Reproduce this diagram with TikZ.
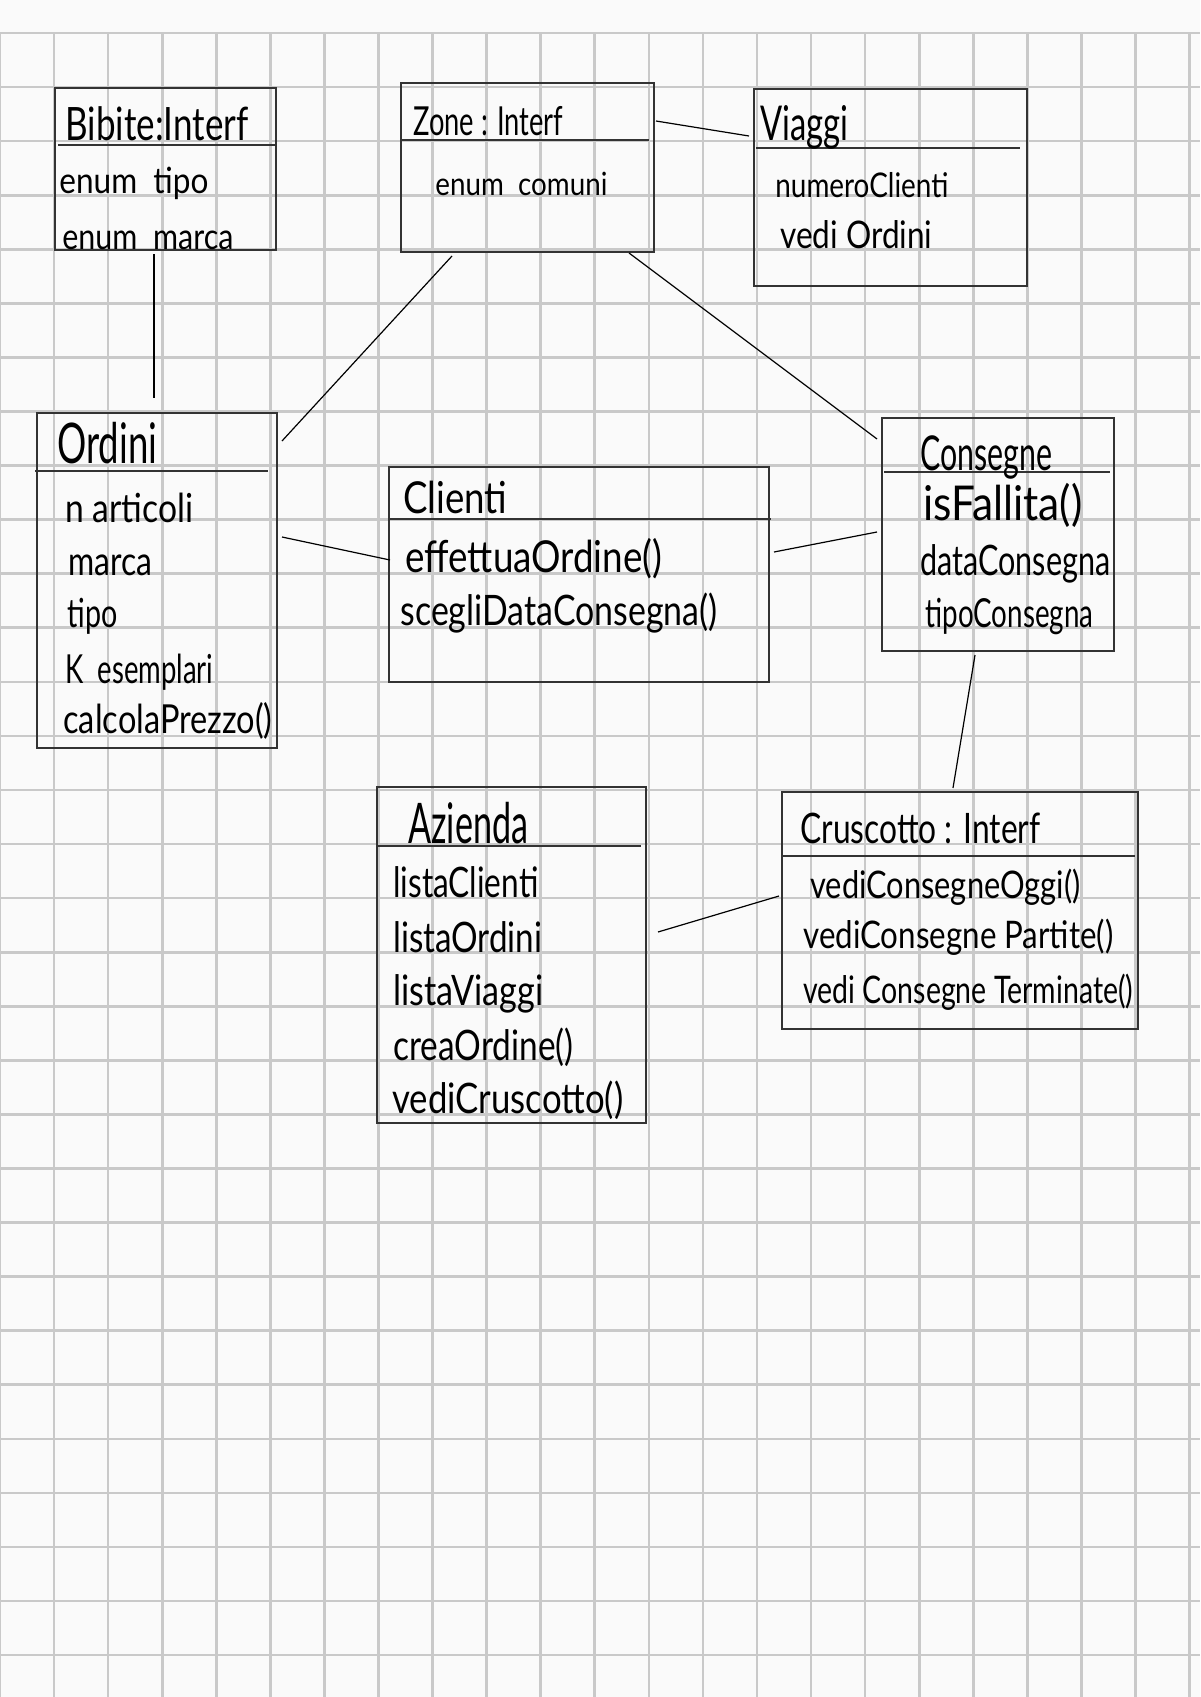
\documentclass[tikz,border=0pt]{standalone}
\usepackage{fontspec}
\setmainfont{Lato}
\usepackage{graphicx}
\newcommand\hw[3]{\resizebox{#1pt}{\height}{\fontsize{#2}{#2}\selectfont #3}}
\begin{document}
\begin{tikzpicture}[x=0.5pt,y=-0.5pt,
  gridline/.style={line width=1.3pt,draw=black!21},
  umlbox/.style={draw=black!80,line width=0.9pt},
  divider/.style={draw=black!80,line width=0.7pt},
  link/.style={draw=black,line width=0.6pt},
  txt/.style={anchor=base west,inner sep=0pt,text=black}]
\useasboundingbox (0,0) rectangle (1200,1697);
\fill[white!98!black] (0,0) rectangle (1200,1697);
% grid
\foreach \k in {0,...,22} \draw[gridline] ({54.07*\k},33) -- ({54.07*\k},1697);
\foreach \k in {0,...,30} \draw[gridline] (0,{33+54.07*\k}) -- (1200,{33+54.07*\k});
% boxes
\draw[umlbox] (55,88) rectangle (276,250);
\draw[divider] (58,145) -- (275,145);
\draw[umlbox] (401,83) rectangle (654,252);
\draw[divider] (401,140) -- (649,140);
\draw[umlbox] (754,89) rectangle (1027,286);
\draw[divider] (756,148) -- (1020,148);
\draw[umlbox] (37,413) rectangle (277,748);
\draw[divider] (35,471) -- (268,471);
\draw[umlbox] (389,467) rectangle (769,682);
\draw[divider] (389,519) -- (771,519);
\draw[umlbox] (882,418) rectangle (1114,651);
\draw[divider] (884,472) -- (1110,472);
\draw[umlbox] (377,787) rectangle (646,1123);
\draw[divider] (377,846) -- (641,846);
\draw[umlbox] (782,792) rectangle (1138,1029);
\draw[divider] (782,856) -- (1135,856);
% texts
\node[txt] (bib-h) at (65,140) {\hw{91.5}{23}{Bibite:Interf}};
\node[txt] (bib-1) at (59,193) {\hw{74.5}{18}{enum\ \ tipo}};
\node[txt] (bib-2) at (62,249) {\hw{85.5}{18}{enum\ \ marca}};
\node[txt] (zon-h) at (413,135) {\hw{75}{20}{Zone : Interf}};
\node[txt] (zon-1) at (435,195) {\hw{86}{16}{enum\ \ comuni}};
\node[txt] (via-h) at (760,140) {\hw{44}{24}{Viaggi}};
\node[txt] (via-1) at (775,197) {\hw{86.5}{17}{numeroClienti}};
\node[txt] (via-2) at (780,248) {\hw{76}{19}{vedi Ordini}};
\node[txt] (ord-h) at (57,463) {\hw{50}{28}{Ordini}};
\node[txt] (ord-1) at (65,522) {\hw{64}{20}{n articoli}};
\node[txt] (ord-2) at (68,575) {\hw{42}{20}{marca}};
\node[txt] (ord-3) at (67,627) {\hw{25}{20}{tipo}};
\node[txt] (ord-4) at (65,683) {\hw{74}{20}{K\ \ esemplari}};
\node[txt] (ord-5) at (63,733) {\hw{104.5}{20}{calcolaPrezzo()}};
\node[txt] (cli-h) at (403,513) {\hw{52}{22}{Clienti}};
\node[txt] (cli-1) at (405,572) {\hw{128.5}{22}{effettuaOrdine()}};
\node[txt] (cli-2) at (400,625) {\hw{158.5}{21}{scegliDataConsegna()}};
\node[txt] (con-h) at (920,470) {\hw{66}{24}{Consegne}};
\node[txt] (con-1) at (923,520) {\hw{79.5}{24}{isFallita()}};
\node[txt] (con-2) at (920,575) {\hw{95}{21}{dataConsegna}};
\node[txt] (con-3) at (925,627) {\hw{84}{20}{tipoConsegna}};
\node[txt] (azi-h) at (408,843) {\hw{60}{28}{Azienda}};
\node[txt] (azi-1) at (393,897) {\hw{72.5}{21}{listaClienti}};
\node[txt] (azi-2) at (393,952) {\hw{74.5}{21}{listaOrdini}};
\node[txt] (azi-3) at (393,1005) {\hw{75}{21}{listaViaggi}};
\node[txt] (azi-4) at (393,1060) {\hw{90}{21}{creaOrdine()}};
\node[txt] (azi-5) at (392,1113) {\hw{115.5}{21}{vediCruscotto()}};
\node[txt] (cru-h) at (800,843) {\hw{120}{21}{Cruscotto : Interf}};
\node[txt] (cru-1) at (810,898) {\hw{135}{19}{vediConsegneOggi()}};
\node[txt] (cru-2) at (803,948) {\hw{155}{19}{vediConsegne Partite()}};
\node[txt] (cru-3) at (803,1003) {\hw{165}{19}{vedi Consegne Terminate()}};
% connector end points
\coordinate (bibS) at (154,254);  \coordinate (ordN) at (154,398);
\coordinate (zonE) at (656,121);  \coordinate (viaW) at (749,136);
\coordinate (zonSW) at (452,256); \coordinate (ordNE) at (282,441);
\coordinate (zonSE) at (629,253); \coordinate (conNW) at (877,439);
\coordinate (ordE) at (282,537);  \coordinate (cliW) at (390,560);
\coordinate (cliE) at (774,552);  \coordinate (conW) at (877,532);
\coordinate (conS) at (975,655);  \coordinate (cruN) at (953,788);
\coordinate (aziE) at (658,932);  \coordinate (cruW) at (779,896);
% connectors
\draw[link] (bibS) -- (ordN);
\draw[link] (zonE) -- (viaW);
\draw[link] (zonSW) -- (ordNE);
\draw[link] (zonSE) -- (conNW);
\draw[link] (ordE) -- (cliW);
\draw[link] (cliE) -- (conW);
\draw[link] (conS) -- (cruN);
\draw[link] (aziE) -- (cruW);
\end{tikzpicture}
\end{document}
